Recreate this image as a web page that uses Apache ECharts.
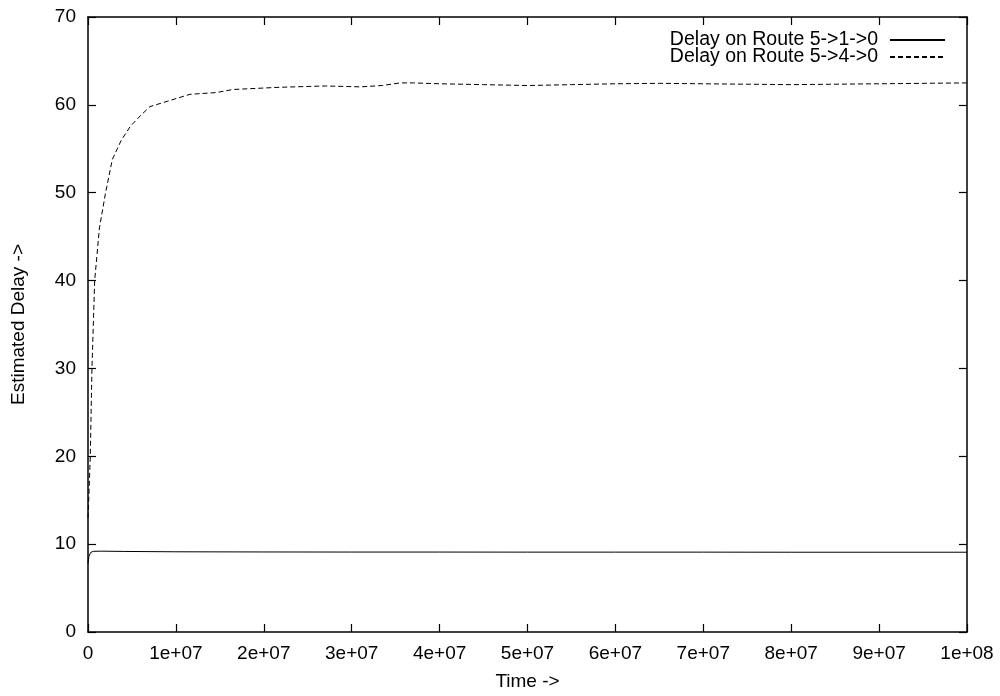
<!DOCTYPE html>
<html>
<head>
<meta charset="utf-8">
<script src="https://cdn.jsdelivr.net/npm/echarts@6/dist/echarts.min.js"></script>
<style>
html,body{margin:0;padding:0;background:#fff;}
#chart{width:1000px;height:696px;}
</style>
</head>
<body>
<div id="chart"></div>
<script>
// ---- data ----
const seriesNames = ['Delay on Route 5->1->0', 'Delay on Route 5->4->0'];
const xTickLabels = ['0','1e+07','2e+07','3e+07','4e+07','5e+07','6e+07','7e+07','8e+07','9e+07','1e+08'];
const yTickLabels = ['0','10','20','30','40','50','60','70'];

// Route 5->1->0 (solid)
const solidTime  = [0, 0.1e6, 0.3e6, 0.6e6, 1.5e6, 4e6, 10e6, 20e6, 30e6, 40e6, 50e6, 60e6, 70e6, 80e6, 90e6, 100e6];
const solidValue = [7.8, 8.6, 9.05, 9.18, 9.2, 9.17, 9.13, 9.11, 9.1, 9.1, 9.09, 9.09, 9.09, 9.08, 9.08, 9.08];

// Route 5->4->0 (dashed)
const dashedTime  = [0, 0.1e6, 0.26e6, 0.45e6, 0.76e6, 1.3e6, 2.0e6, 2.77e6, 3.8e6, 4.85e6, 6.0e6, 7.05e6, 9.0e6, 11.6e6, 14.6e6, 16.5e6, 21.8e6, 27e6, 31e6, 33.5e6, 35.5e6, 37e6, 40e6, 45e6, 50e6, 55e6, 60e6, 65e6, 70e6, 75e6, 80e6, 85e6, 90e6, 95e6, 100e6];
const dashedValue = [13, 15.5, 20, 30, 40, 46, 50, 53.8, 56, 57.6, 58.8, 59.8, 60.4, 61.2, 61.4, 61.75, 62.0, 62.15, 62.05, 62.2, 62.5, 62.5, 62.4, 62.3, 62.2, 62.3, 62.4, 62.45, 62.4, 62.35, 62.3, 62.35, 62.4, 62.45, 62.5];

const zip = (a, b) => a.map((v, i) => [v, b[i]]);

const FONT = "'Liberation Sans', Arial, Helvetica, sans-serif";
const FS = 19;

const chart = echarts.init(document.getElementById('chart'), null, {renderer: 'canvas'});

const axisLineStyle = {color: '#000', width: 1.5};
const tickStyle = {color: '#000', width: 1.2};

const option = {
  backgroundColor: '#fff',
  animation: false,
  grid: {left: 88, right: 33, top: 17, bottom: 62, containLabel: false},
  legend: {
    orient: 'vertical',
    right: 54,
    top: 30,
    padding: 0,
    align: 'right',
    itemWidth: 55,
    itemHeight: 14,
    itemGap: -3,
    selectedMode: false,
    itemStyle: {opacity: 0},
    textStyle: {fontFamily: FONT, fontSize: 19.5, color: '#000', padding: [0, 7, 0, 0]},
    data: seriesNames
  },
  xAxis: [
    {
      type: 'value', min: 0, max: 1e8, interval: 1e7, position: 'bottom',
      name: 'Time ->', nameLocation: 'middle', nameGap: 40,
      nameTextStyle: {fontFamily: FONT, fontSize: FS, color: '#000'},
      axisLine: {show: true, onZero: false, lineStyle: axisLineStyle},
      axisTick: {show: true, inside: true, length: 8, lineStyle: tickStyle},
      axisLabel: {fontFamily: FONT, fontSize: FS, color: '#000', margin: 12,
        formatter: v => xTickLabels[Math.round(v / 1e7)]},
      splitLine: {show: false}
    },
    {
      type: 'value', min: 0, max: 1e8, interval: 1e7, position: 'top',
      axisLine: {show: true, onZero: false, lineStyle: axisLineStyle},
      axisTick: {show: true, inside: true, length: 8, lineStyle: tickStyle},
      axisLabel: {show: false},
      splitLine: {show: false}
    }
  ],
  yAxis: [
    {
      type: 'value', min: 0, max: 70, interval: 10, position: 'left',
      name: 'Estimated Delay ->', nameLocation: 'middle', nameGap: 60, nameRotate: 90,
      nameTextStyle: {fontFamily: FONT, fontSize: FS, color: '#000'},
      axisLine: {show: true, onZero: false, lineStyle: axisLineStyle},
      axisTick: {show: true, inside: true, length: 8, lineStyle: tickStyle},
      axisLabel: {fontFamily: FONT, fontSize: FS, color: '#000', margin: 12,
        formatter: v => yTickLabels[Math.round(v / 10)]},
      splitLine: {show: false}
    },
    {
      type: 'value', min: 0, max: 70, interval: 10, position: 'right',
      axisLine: {show: true, onZero: false, lineStyle: axisLineStyle},
      axisTick: {show: true, inside: true, length: 8, lineStyle: tickStyle},
      axisLabel: {show: false},
      splitLine: {show: false}
    }
  ],
  series: [
    {
      name: seriesNames[0], type: 'line', xAxisIndex: 0, yAxisIndex: 0,
      symbol: 'none', smooth: false,
      lineStyle: {color: '#000', width: 1, type: 'solid'},
      itemStyle: {color: '#000'},
      data: zip(solidTime, solidValue)
    },
    {
      name: seriesNames[1], type: 'line', xAxisIndex: 0, yAxisIndex: 0,
      symbol: 'none', smooth: false,
      lineStyle: {color: '#000', width: 1, type: [5, 3]},
      itemStyle: {color: '#000'},
      data: zip(dashedTime, dashedValue)
    }
  ]
};
chart.setOption(option);
</script>
</body>
</html>
